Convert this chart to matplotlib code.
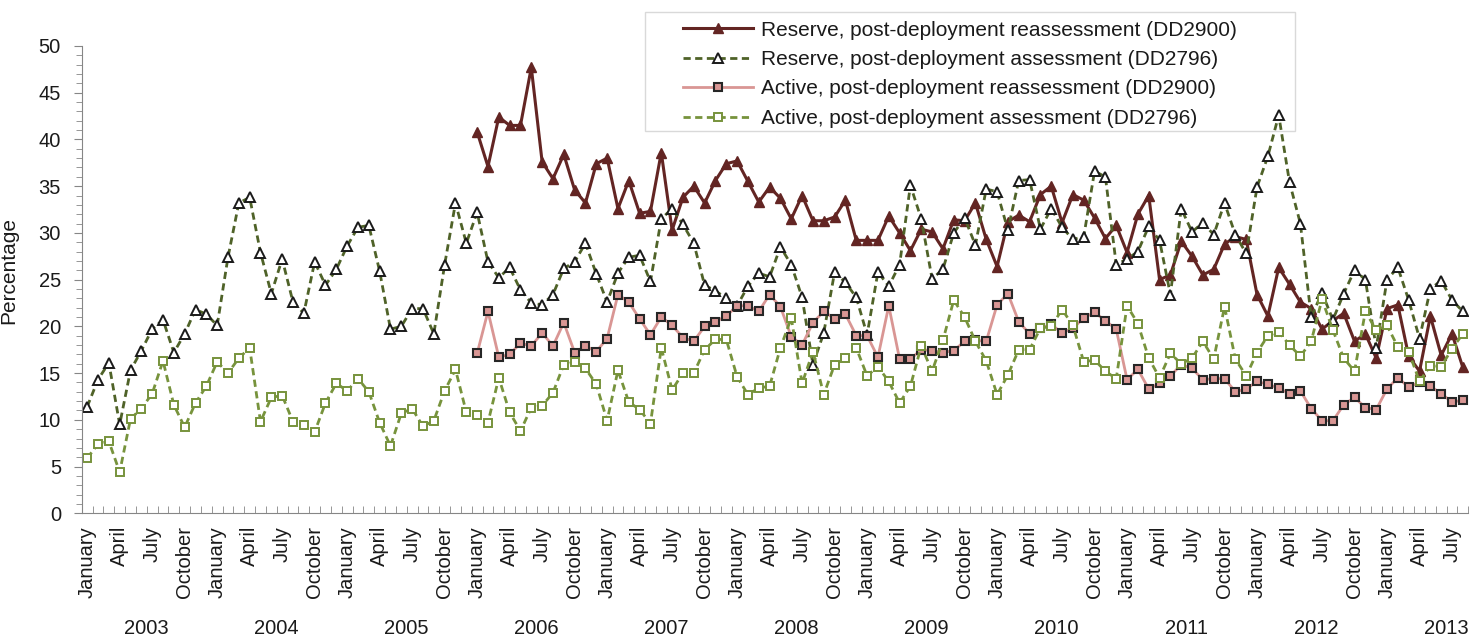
import numpy as np
import matplotlib.pyplot as plt
from matplotlib.patches import Rectangle
from matplotlib.ticker import MultipleLocator

plt.rcParams['font.family'] = ['Liberation Sans', 'DejaVu Sans']

# monthly series, January 2003 - August 2013
years = [2003, 2004, 2005, 2006, 2007, 2008, 2009, 2010, 2011, 2012, 2013]
quarter_names = ['January', 'April', 'July', 'October']

reserve_assess = [
    11.4, 14.3, 16.1, 9.5, 15.3, 17.4, 19.7, 20.7, 17.2, 19.2, 21.8, 21.3,
    20.1, 27.4, 33.2, 33.8, 27.9, 23.5, 27.2, 22.6, 21.4, 26.9, 24.4, 26.1,
    28.6, 30.6, 30.8, 25.9, 19.7, 20.0, 21.9, 21.9, 19.2, 26.6, 33.2, 28.9,
    32.2, 26.9, 25.2, 26.3, 23.9, 22.5, 22.3, 23.4, 26.2, 26.9, 28.9, 25.6,
    22.6, 25.7, 27.4, 27.6, 24.8, 31.5, 32.6, 30.9, 28.9, 24.4, 23.8, 23.0,
    22.2, 24.3, 25.7, 25.3, 28.5, 26.6, 23.1, 15.9, 19.3, 25.8, 24.7, 23.1,
    19.1, 25.8, 24.3, 26.6, 35.1, 31.5, 25.1, 26.1, 30.0, 31.6, 28.7, 34.7,
    34.4, 30.3, 35.6, 35.7, 30.4, 32.6, 30.6, 29.3, 29.6, 36.6, 36.0, 26.6,
    27.2, 28.0, 30.7, 29.2, 23.4, 32.6, 30.1, 31.1, 29.8, 33.2, 29.8, 27.8,
    34.9, 38.2, 42.6, 35.4, 31.0, 21.0, 23.6, 20.7, 23.5, 26.0, 25.0, 17.7,
    25.0, 26.3, 22.8, 18.7, 24.0, 24.9, 22.8, 21.6]

active_assess = [
    5.9, 7.4, 7.7, 4.4, 10.1, 11.2, 12.8, 16.3, 11.6, 9.2, 11.8, 13.6,
    16.2, 15.0, 16.6, 17.7, 9.8, 12.4, 12.6, 9.8, 9.4, 8.7, 11.8, 13.9,
    13.1, 14.4, 13.0, 9.7, 7.2, 10.7, 11.2, 9.3, 9.9, 13.1, 15.4, 10.8,
    10.5, 9.7, 14.5, 10.8, 8.8, 11.3, 11.5, 12.9, 15.9, 16.2, 15.5, 13.8,
    9.9, 15.3, 11.9, 11.1, 9.6, 17.7, 13.2, 15.0, 15.0, 17.5, 18.6, 18.6,
    14.6, 12.7, 13.4, 13.6, 17.7, 20.9, 13.9, 17.3, 12.7, 15.9, 16.6, 17.7,
    14.7, 15.7, 14.1, 11.8, 13.6, 17.9, 15.2, 18.5, 22.8, 21.0, 18.4, 16.3,
    12.7, 14.8, 17.5, 17.5, 19.8, 20.0, 21.8, 20.1, 16.2, 16.4, 15.2, 14.4,
    22.2, 20.3, 16.6, 14.5, 17.1, 16.0, 16.6, 18.4, 16.5, 22.1, 16.5, 14.7,
    17.2, 19.0, 19.4, 18.0, 16.8, 18.4, 22.9, 19.6, 16.6, 15.2, 21.6, 19.6,
    20.1, 17.8, 17.3, 14.1, 15.8, 15.7, 17.6, 19.2]

# DD2900 series start in January 2006
reserve_reassess = [
    40.8, 37.1, 42.4, 41.5, 41.5, 47.7, 37.6, 35.8, 38.4, 34.6, 33.2, 37.4,
    38.0, 32.6, 35.6, 32.1, 32.3, 38.6, 30.3, 33.8, 35.0, 33.2, 35.6, 37.4,
    37.7, 35.5, 33.3, 34.9, 33.7, 31.5, 34.0, 31.3, 31.3, 31.7, 33.5, 29.2,
    29.2, 29.2, 31.8, 30.0, 28.1, 30.4, 30.1, 28.3, 31.4, 31.3, 33.2, 29.3,
    26.4, 31.2, 31.9, 31.2, 34.1, 35.0, 31.1, 34.1, 33.5, 31.6, 29.4, 30.8,
    27.9, 32.0, 34.0, 25.0, 25.5, 29.1, 27.5, 25.5, 26.1, 28.8, 29.6, 29.3,
    23.4, 21.1, 26.3, 24.5, 22.6, 21.9, 19.7, 20.6, 21.4, 18.4, 19.2, 16.6,
    21.9, 22.3, 16.8, 15.2, 21.1, 16.9, 19.2, 15.6]

active_reassess = [
    17.1, 21.6, 16.7, 17.0, 18.2, 17.9, 19.3, 17.9, 20.4, 17.2, 17.9, 17.3,
    18.7, 23.4, 22.6, 20.8, 19.1, 21.0, 20.1, 18.8, 18.4, 20.0, 20.5, 21.1,
    22.2, 22.2, 21.6, 23.4, 22.1, 18.9, 18.0, 20.4, 21.6, 20.8, 21.3, 19.0,
    19.0, 16.7, 22.2, 16.5, 16.5, 17.5, 17.4, 17.2, 17.4, 18.4, 18.5, 18.4,
    22.3, 23.5, 20.5, 19.2, 19.8, 20.2, 19.3, 19.8, 20.9, 21.5, 20.6, 19.7,
    14.3, 15.4, 13.3, 13.9, 14.7, 15.9, 15.5, 14.3, 14.4, 14.4, 13.0, 13.3,
    14.1, 13.8, 13.4, 12.8, 13.1, 11.2, 9.9, 9.9, 11.6, 12.4, 11.3, 11.1,
    13.3, 14.5, 13.5, 14.0, 13.6, 12.8, 11.9, 12.1]

n_months = len(reserve_assess)
start_new = n_months - len(reserve_reassess)
x_all = np.arange(n_months)
x_new = np.arange(start_new, n_months)

txt = '#1a1a1a'
axcol = '#868686'
fs = 14.5

fig = plt.figure(figsize=(14.84, 6.35), dpi=100)
ax = fig.add_axes([0.0551, 0.1917, 0.9343, 0.7359])

dash = (0, (2.6, 1.6))
ax.plot(x_new, reserve_reassess, color='#632523', lw=2.2, marker='^', ms=7.5,
        mfc='#632523', mec='#632523',
        label='Reserve, post-deployment reassessment (DD2900)')
ax.plot(x_all, reserve_assess, color='#4F6228', lw=2, ls=dash, marker='^', ms=6.5,
        mfc='white', mec='#1a1a1a', mew=1.4,
        label='Reserve, post-deployment assessment (DD2796)')
ax.plot(x_new, active_reassess, color='#D99694', lw=2, marker='s', ms=6.3,
        mfc='#D99694', mec='#262626', mew=1.5,
        label='Active, post-deployment reassessment (DD2900)')
ax.plot(x_all, active_assess, color='#77933C', lw=2, ls=dash, marker='s', ms=6.3,
        mfc='white', mec='#77933C', mew=1.4,
        label='Active, post-deployment assessment (DD2796)')

ax.set_xlim(-0.5, n_months - 0.5)
ax.set_ylim(0, 50)
for s in ['top', 'right']:
    ax.spines[s].set_visible(False)
for s in ['left', 'bottom']:
    ax.spines[s].set_color(axcol)

# y axis
ax.set_yticks(range(0, 51, 5))
ax.yaxis.set_minor_locator(MultipleLocator(1))
ax.tick_params(axis='y', which='major', direction='out', length=6, color=axcol,
               labelsize=fs, labelcolor=txt, pad=9)
ax.tick_params(axis='y', which='minor', direction='out', length=4, color=axcol)
ax.set_ylabel('Percentage', fontsize=15, color=txt)
ax.yaxis.set_label_coords(-0.046, 0.52)

# x axis: tick marks between months, quarter month names, year groups
ax.set_xticks(np.arange(-0.5, n_months, 1), minor=True)
ax.set_xticks(x_all[::3])
ax.set_xticklabels([quarter_names[(m % 12) // 3] for m in x_all[::3]],
                   rotation=90, va='top', ha='center')
ax.tick_params(axis='x', which='major', length=0, labelsize=fs, labelcolor=txt, pad=9)
ax.tick_params(axis='x', which='minor', direction='in', length=5, color=axcol)

tr = ax.get_xaxis_transform()
for k, yr in enumerate(years):
    first = 12 * k
    last = min(first + 11, n_months - 1)
    if last - first < 11:
        ax.text(n_months - 0.5, -0.246, str(yr), transform=tr, ha='right',
                va='center', fontsize=fs, color=txt)
    else:
        ax.text((first + last) / 2, -0.246, str(yr), transform=tr, ha='center',
                va='center', fontsize=fs, color=txt)

# legend
fig.legend(loc='upper left', bbox_to_anchor=(0.4602, 0.9675), frameon=False,
           fontsize=15, handlelength=3.35, handletextpad=0.42, labelspacing=0.5,
           borderpad=0, borderaxespad=0, labelcolor=txt)
fig.patches.append(Rectangle((645 / 1484, 1 - 130.7 / 635), 650 / 1484, 118.4 / 635,
                             transform=fig.transFigure, fill=False,
                             edgecolor='#D9D9D9', lw=1))

fig.savefig('out.png', dpi=100)
